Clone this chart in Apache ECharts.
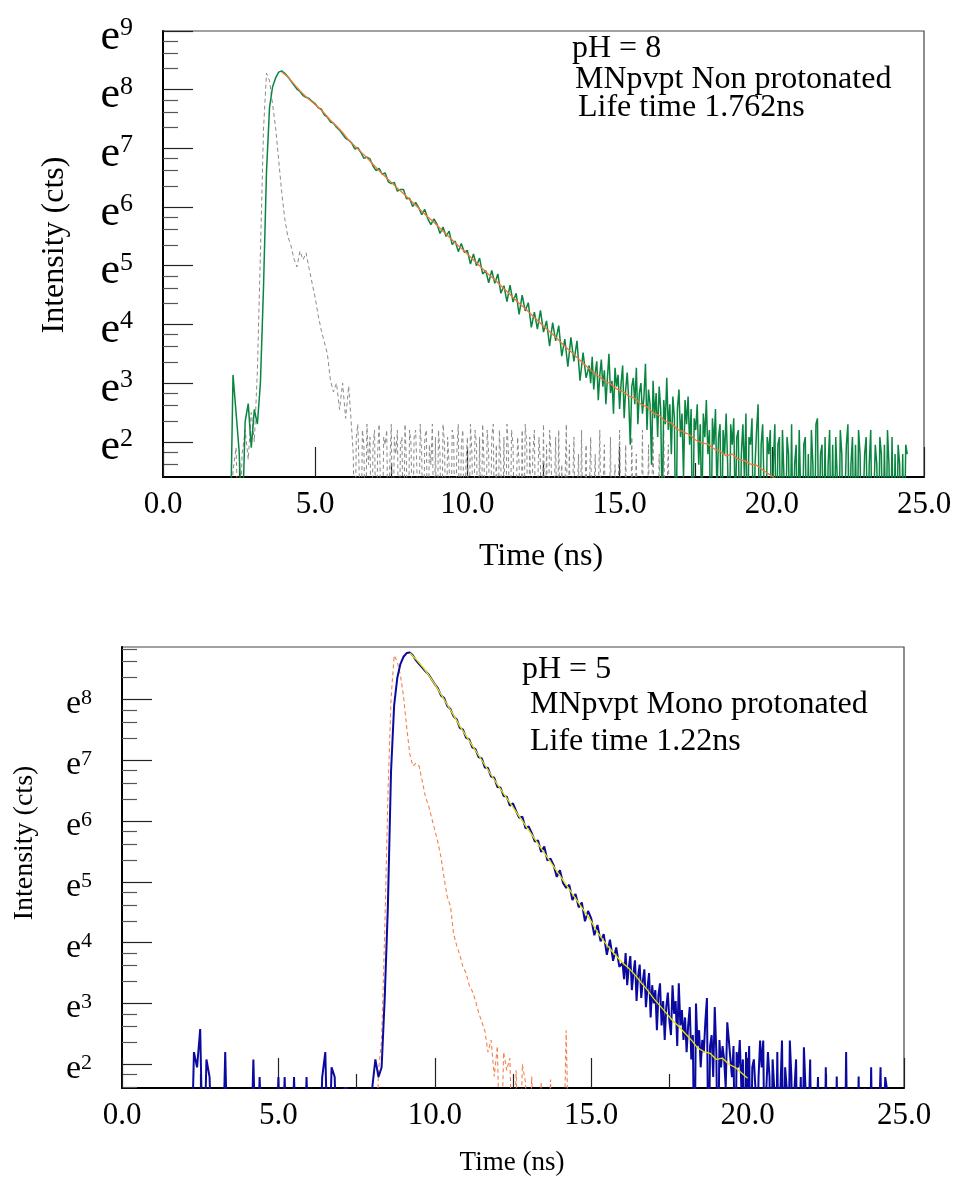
<!DOCTYPE html>
<html>
<head>
<meta charset="utf-8">
<script src="https://cdn.jsdelivr.net/npm/echarts@6/dist/echarts.min.js"></script>
<style>
  html, body { margin: 0; padding: 0; background: #fff; }
  #chart { width: 959px; height: 1182px; }
</style>
</head>
<body>
<div id="chart"></div>
<script>
// values are ln(counts); 0 = a single count (below the visible axis range)
const STEP = 0.1;
const FINE_STEP = 0.05;
const FIT_STEP = 0.2;

// pH = 8 panel
const highDecayStart = 2.2;      // 0.1 ns channels up to 13.9
const highDecay = [
  0, 3.14, 2.5, 1.85, 0.5, 2.35, 2.65, 1.9, 2.55, 2.3,
  3.0, 4.6, 6.6, 7.7, 8.05, 8.2, 8.3, 8.32, 8.28, 8.22,
  8.15, 8.08, 8.01, 7.97, 7.90, 7.87, 7.85, 7.80, 7.76, 7.69,
  7.67, 7.57, 7.53, 7.45, 7.43, 7.36, 7.31, 7.24, 7.17, 7.14,
  7.09, 6.99, 7.01, 6.93, 6.83, 6.85, 6.82, 6.70, 6.62, 6.66,
  6.56, 6.58, 6.43, 6.40, 6.42, 6.27, 6.30, 6.30, 6.14, 6.15,
  6.01, 6.08, 5.99, 5.87, 5.96, 5.80, 5.70, 5.80, 5.71, 5.55,
  5.66, 5.50, 5.59, 5.36, 5.42, 5.24, 5.38, 5.23, 5.26, 5.03,
  5.20, 5.00, 5.13, 4.86, 4.92, 4.71, 4.92, 4.70, 4.86, 4.53,
  4.66, 4.39, 4.67, 4.38, 4.53, 4.17, 4.50, 4.23, 4.37, 3.95,
  4.21, 3.92, 4.24, 3.87, 4.06, 3.63, 4.03, 3.72, 3.98, 3.46,
  3.75, 3.28, 3.78, 3.37, 3.72, 3.04, 3.52, 3.09
];
const highTailStart = 14.0;      // 0.05 ns channels up to 24.45
const highTail = [
  3.30, 3.00, 3.45, 2.89, 3.18, 3.37, 2.71, 3.14, 3.40, 2.94,
  3.22, 2.64, 3.09, 3.50, 2.83, 3.04, 2.48, 3.26, 2.94, 3.14,
  2.56, 3.00, 3.30, 2.40, 2.89, 3.18, 2.71, 1.95, 2.94, 3.09,
  2.64, 3.26, 2.30, 2.83, 3.00, 2.48, 2.77, 3.33, 2.20, 2.89,
  2.64, 1.61, 3.04, 2.40, 2.83, 2.08, 2.94, 2.56, 0.69, 2.71,
  2.30, 3.09, 2.20, 2.64, 1.79, 2.77, 2.40, 0, 2.56, 2.89,
  2.08, 2.48, 1.39, 2.71, 2.30, 2.77, 1.95, 2.56, 0, 2.40,
  2.20, 2.64, 1.61, 2.30, 0.69, 2.48, 2.08, 2.71, 1.79, 2.20,
  0, 2.40, 1.95, 2.56, 1.10, 2.08, 2.30, 0, 2.20, 1.79,
  2.48, 1.61, 0, 2.30, 1.95, 2.40, 0.69, 2.08, 2.20, 0,
  1.79, 2.30, 1.39, 2.48, 0, 2.08, 1.95, 2.40, 0, 1.61,
  2.20, 2.64, 0, 1.95, 2.30, 1.10, 0, 2.08, 1.79, 2.20,
  0, 1.61, 2.30, 0, 1.95, 2.08, 0, 2.20, 1.39, 0,
  2.08, 1.79, 0, 2.30, 0, 1.61, 1.95, 0, 2.20, 1.10,
  0, 1.95, 2.08, 0, 1.79, 0, 2.20, 1.61, 0, 2.30,
  2.40, 0, 1.79, 1.95, 0, 2.08, 0, 1.61, 2.20, 0,
  1.95, 0, 2.08, 1.39, 0, 2.20, 1.79, 0, 0, 1.95,
  2.30, 0, 1.61, 2.08, 0, 1.95, 0, 2.20, 1.79, 0,
  0, 1.79, 2.08, 0, 1.61, 2.20, 0, 0, 1.95, 1.61,
  0, 2.08, 1.79, 0, 1.95, 0, 2.20, 1.61, 0, 2.08,
  0, 1.79, 0, 1.95, 1.61, 0, 1.79, 0, 1.95, 1.79
];
const highIrfStart = 2.2;        // 0.1 ns up to 6.1
const highIrf = [
  0, 1.5, 1.9, 0, 1.8, 2.2, 1.7, 2.5, 2.0, 3.2,
  5.2, 7.3, 8.28, 8.15, 7.75, 7.35, 6.8, 6.25, 5.8, 5.5,
  5.35, 5.12, 4.98, 5.25, 5.1, 5.22, 4.95, 4.7, 4.45, 4.15,
  3.9, 3.7, 3.5, 3.05, 2.85, 3.0, 2.55, 3.0, 2.4, 2.95
];
const highIrfTailStart = 6.2;    // 0.05 ns up to 16.7
const highIrfTail = [
  2.20, 1.79, 0, 2.08, 2.30, 1.39, 0, 2.20, 1.95, 0,
  2.30, 1.61, 2.08, 0, 1.95, 2.20, 0, 1.79, 2.30, 1.10,
  0, 2.08, 1.95, 2.20, 0, 1.61, 2.30, 0, 2.08, 1.79,
  2.20, 0, 1.95, 2.08, 0, 2.30, 1.61, 0, 2.20, 1.95,
  0, 2.08, 2.20, 1.39, 0, 2.30, 1.79, 0, 2.08, 2.20,
  0, 1.95, 1.61, 2.30, 0, 2.08, 0, 2.20, 1.79, 0,
  2.30, 1.95, 0, 2.08, 1.61, 0, 2.20, 2.08, 0, 1.79,
  2.30, 0, 1.95, 2.20, 0, 1.61, 2.08, 0, 2.30, 1.79,
  0, 2.20, 1.95, 0, 2.08, 0, 2.30, 1.61, 0, 2.20,
  1.79, 0, 2.08, 2.30, 0, 1.95, 0, 2.20, 1.61, 0,
  2.08, 0, 2.30, 1.79, 0, 2.20, 1.95, 0, 0, 2.08,
  1.61, 0, 2.20, 0, 2.30, 1.95, 0, 2.08, 0, 1.79,
  2.20, 0, 0, 2.08, 1.61, 0, 2.30, 0, 1.95, 0,
  2.20, 1.79, 0, 0, 2.08, 0, 2.20, 0, 1.61, 0,
  0, 2.30, 0, 1.95, 0, 0, 2.08, 0, 0, 1.79,
  0, 2.20, 0, 0, 1.95, 0, 0, 2.08, 0, 0,
  1.79, 0, 0, 2.20, 0, 0, 1.95, 0, 0, 0,
  2.08, 0, 0, 1.61, 0, 0, 2.20, 0, 0, 0,
  1.95, 0, 0, 0, 2.08, 0, 0, 1.79, 0, 0,
  0, 2.20, 0, 0, 0, 1.95, 0, 0, 2.08, 0,
  0, 0, 1.79, 0, 0, 2.20, 0, 0, 1.95, 0,
  0
];
const highFitStart = 3.9;
const highFit = [
  8.3, 8.22, 8.1, 7.98, 7.88, 7.79, 7.7, 7.6, 7.48, 7.38,
  7.27, 7.14, 7.04, 6.94, 6.84, 6.73, 6.62, 6.52, 6.42, 6.32,
  6.23, 6.13, 6.03, 5.93, 5.83, 5.74, 5.64, 5.54, 5.44, 5.34,
  5.25, 5.15, 5.05, 4.95, 4.85, 4.76, 4.66, 4.56, 4.46, 4.36,
  4.27, 4.17, 4.07, 3.97, 3.88, 3.78, 3.68, 3.58, 3.49, 3.39,
  3.29, 3.20, 3.12, 3.04, 2.99, 2.90, 2.86, 2.78, 2.74, 2.64,
  2.60, 2.49, 2.45, 2.35, 2.32, 2.21, 2.17, 2.12, 2.03, 1.98,
  1.96, 1.88, 1.84, 1.76, 1.79, 1.70, 1.68, 1.62, 1.60, 1.52,
  1.45, 1.38
];

// pH = 5 panel
const lowDecayStart = 2.2;       // 0.1 ns up to 15.9
const lowDecay = [
  0, 2.2, 1.95, 2.58, 0, 2.08, 1.79, 0, 0, 0,
  0, 2.2, 0, 0, 0, 0, 0, 0, 0, 0,
  2.08, 0, 1.79, 0, 0, 0, 0, 0, 1.79, 0,
  1.79, 0, 0, 1.79, 0, 0, 0, 1.79, 0, 0,
  0, 0, 1.79, 2.2, 0, 1.95, 1.79, 0, 0, 1.61,
  1.61, 0, 0, 1.61, 0, 0, 0, 0, 1.61, 2.08,
  1.79, 1.95, 3.1, 4.6, 6.8, 7.9, 8.35, 8.58, 8.7, 8.76,
  8.77, 8.72, 8.64, 8.58, 8.52, 8.46, 8.41, 8.33,
  8.25, 8.18, 8.06, 8.02, 7.89, 7.84, 7.72, 7.67, 7.53, 7.50,
  7.37, 7.34, 7.21, 7.18, 7.05, 7.03, 6.88, 6.87, 6.73, 6.71,
  6.56, 6.55, 6.41, 6.40,
  6.25, 6.29, 6.16, 6.05, 6.07, 5.88, 5.91, 5.80, 5.66, 5.68,
  5.49, 5.58, 5.35, 5.38, 5.27, 5.08, 5.19, 4.98, 4.90, 4.95,
  4.70, 4.80, 4.58, 4.66, 4.35, 4.52, 4.40, 4.12, 4.29, 4.02,
  4.14, 3.80, 4.05, 3.70, 3.92, 3.60
];
const lowTailStart = 16.0;       // 0.05 ns up to 24.45
const lowTail = [
  3.67, 3.40, 3.83, 3.30, 3.58, 3.78, 3.22, 3.50, 3.71, 3.04,
  3.45, 3.64, 3.09, 3.37, 3.56, 2.94, 3.26, 3.50, 2.77, 3.30,
  3.00, 3.22, 2.56, 3.14, 3.33, 2.64, 3.04, 2.40, 2.94, 3.18,
  2.71, 2.48, 3.30, 2.83, 3.04, 2.30, 3.33, 2.64, 2.89, 2.40,
  2.77, 2.20, 2.64, 2.94, 2.08, 2.48, 0, 3.00, 2.30, 2.56,
  1.95, 2.40, 2.20, 2.71, 3.09, 0, 2.30, 2.48, 1.79, 2.94,
  2.20, 0, 2.40, 1.95, 2.30, 2.08, 1.61, 2.69, 2.40, 2.08,
  1.79, 2.30, 0, 2.20, 1.95, 2.40, 1.61, 2.08, 0, 2.20,
  1.39, 2.30, 0, 1.95, 2.08, 1.61, 0, 1.79, 2.39, 1.95,
  2.39, 0, 1.61, 2.20, 1.79, 0, 2.08, 1.61, 0, 2.20,
  0, 1.61, 2.39, 0, 1.95, 1.61, 0, 2.39, 1.79, 0,
  1.61, 2.08, 0, 0, 1.79, 0, 2.28, 1.61, 0, 0,
  2.08, 0, 1.61, 0, 0, 1.79, 0, 0, 1.61, 0,
  1.95, 0, 0, 1.61, 0, 0, 0, 1.80, 0, 0,
  0, 1.61, 0, 2.20, 0, 0, 0, 1.61, 0, 0,
  0, 1.80, 0, 0, 0, 1.61, 0, 0, 0, 1.95,
  0, 0, 1.61, 0, 0, 1.95, 0, 0, 1.79, 1.61
];
const lowIrfStart = 8.1;
const lowIrf = [
  0, 1.9, 2.4, 4.2, 6.4, 8.0, 8.72, 8.62, 8.4, 8.05,
  7.55, 7.1, 6.9, 6.95, 6.9, 6.65, 6.4, 6.25, 6.05, 5.85,
  5.65, 5.4, 5.05, 4.75, 4.6, 4.15, 3.95, 3.8, 3.6, 3.5,
  3.3, 3.2, 3.05, 2.85, 2.7, 2.55, 2.2, 2.4, 1.8, 2.3,
  0, 2.2, 1.9, 2.1, 0, 1.9, 0, 2.0, 1.7, 0,
  1.8, 0, 0, 1.7, 0, 0, 1.75, 0, 0, 0,
  0, 2.56, 0
];
const lowFitStart = 9.2;
const lowFit = [
  8.76, 8.66, 8.54, 8.40, 8.25, 8.08, 7.91, 7.74, 7.56, 7.40,
  7.24, 7.08, 6.92, 6.76, 6.60, 6.45, 6.30, 6.15, 6.00, 5.85,
  5.70, 5.55, 5.40, 5.25, 5.10, 4.95, 4.80, 4.65, 4.50, 4.35,
  4.17, 4.03, 3.90, 3.78, 3.67, 3.58, 3.47, 3.34, 3.22, 3.08,
  2.96, 2.84, 2.72, 2.62, 2.51, 2.40, 2.27, 2.21, 2.18, 2.08,
  2.10, 2.00, 1.95, 1.86, 1.77
];

// axes
const majorExponents = [2, 3, 4, 5, 6, 7, 8, 9];
const minorOffsets = [0.357, 0.620, 0.828]; // ln of quarter steps between e^n and e^(n+1)

const SERIF = '"Liberation Serif", "DejaVu Serif", serif';

function pairs(start, step, vals) {
  return vals.map((v, i) => [+(start + i * step).toFixed(3), v]);
}

function minorValues(lo, hi) {
  const out = [];
  for (let n = 0; n <= 9; n++) {
    minorOffsets.forEach(o => {
      const v = n + o;
      if (v > lo && v < hi) out.push(v);
    });
  }
  return out;
}

function xAxisFor(gridIndex) {
  return {
    type: 'value', gridIndex, min: 0, max: 25, interval: 5,
    axisLine: { lineStyle: { color: '#000', width: 2 } },
    axisTick: { inside: true, length: 30, lineStyle: { color: '#222', width: 1.2 } },
    minorTick: { show: true, splitNumber: 2, length: 14, lineStyle: { color: '#222', width: 1.2 } },
    splitLine: { show: false },
    axisLabel: {
      formatter: v => v.toFixed(1), margin: 12,
      fontFamily: SERIF, fontSize: 31, color: '#000'
    }
  };
}

function yAxesFor(gridIndex, min, max, eSize, sSize, pad) {
  const majors = majorExponents.filter(v => v >= min && v <= max);
  return [{
    type: 'value', gridIndex, min, max, position: 'left',
    axisLine: { lineStyle: { color: '#000', width: 2 } },
    axisTick: { inside: true, length: 30, customValues: majors, lineStyle: { color: '#222', width: 1.2 } },
    splitLine: { show: false },
    axisLabel: {
      customValues: majors, margin: 30, padding: [pad, 0, 0, 0],
      formatter: v => '{e|e}{s|' + v + '}',
      rich: {
        e: { fontFamily: SERIF, fontSize: eSize, lineHeight: eSize, verticalAlign: 'bottom', color: '#000' },
        s: { fontFamily: SERIF, fontSize: sSize, lineHeight: sSize, verticalAlign: 'top', color: '#000' }
      }
    }
  }, {
    type: 'value', gridIndex, min, max, position: 'left', offset: 0,
    axisLine: { show: false },
    axisTick: { inside: true, length: 15, customValues: minorValues(min, max), lineStyle: { color: '#555', width: 1.2 } },
    splitLine: { show: false },
    axisLabel: { show: false }
  }];
}

function line(name, xi, yi, data, color, width, dashed) {
  return {
    name, type: 'line', xAxisIndex: xi, yAxisIndex: yi, data,
    showSymbol: false, symbol: 'none', clip: true, animation: false,
    lineStyle: { color, width, type: dashed ? [4, 3] : 'solid' },
    z: 3
  };
}

function txt(x, y, text, size, align) {
  return {
    type: 'text', x, y,
    style: { text, fontFamily: SERIF, fontSize: size, fill: '#000', align: align || 'left', verticalAlign: 'middle' }
  };
}

const chart = echarts.init(document.getElementById('chart'), null, { renderer: 'canvas' });

chart.setOption({
  backgroundColor: '#fff',
  animation: false,
  grid: [
    { left: 163, top: 31, width: 761, height: 446, show: true, borderColor: '#444', borderWidth: 1.2, backgroundColor: 'transparent' },
    { left: 122, top: 647, width: 782, height: 441, show: true, borderColor: '#444', borderWidth: 1.2, backgroundColor: 'transparent' }
  ],
  xAxis: [xAxisFor(0), xAxisFor(1)],
  yAxis: [
    ...yAxesFor(0, 1.4, 9, 44, 26, 12),
    ...yAxesFor(1, 1.61, 8.86, 34, 22, 10)
  ],
  series: [
    line('IRF pH8', 0, 0, pairs(highIrfStart, STEP, highIrf).concat(pairs(highIrfTailStart, FINE_STEP, highIrfTail)), '#8a8a8a', 1, true),
    line('Decay pH8', 0, 0, pairs(highDecayStart, STEP, highDecay).concat(pairs(highTailStart, FINE_STEP, highTail)), '#0a8540', 1.5, false),
    line('Fit pH8', 0, 0, pairs(highFitStart, FIT_STEP, highFit), '#f0783a', 1.3, false),
    line('IRF pH5', 1, 2, pairs(lowIrfStart, STEP, lowIrf), '#f5804a', 1.1, true),
    line('Decay pH5', 1, 2, pairs(lowDecayStart, STEP, lowDecay).concat(pairs(lowTailStart, FINE_STEP, lowTail)), '#0a0aa0', 2, false),
    line('Fit pH5', 1, 2, pairs(lowFitStart, FIT_STEP, lowFit), '#e8e400', 1.3, false)
  ],
  graphic: [
    txt(572, 49, 'pH = 8', 32),
    txt(575, 80, 'MNpvpt Non protonated', 32),
    txt(578, 108, 'Life time 1.762ns', 32),
    txt(522, 670, 'pH = 5', 32),
    txt(530, 705, 'MNpvpt Mono protonated', 32),
    txt(530, 742, 'Life time 1.22ns', 32),
    txt(541, 557, 'Time (ns)', 32, 'center'),
    txt(512, 1163, 'Time (ns)', 27, 'center'),
    { type: 'text', x: 55, y: 245, rotation: Math.PI / 2,
      style: { text: 'Intensity (cts)', fontFamily: SERIF, fontSize: 32, fill: '#000', align: 'center', verticalAlign: 'middle' } },
    { type: 'text', x: 25, y: 843, rotation: Math.PI / 2,
      style: { text: 'Intensity (cts)', fontFamily: SERIF, fontSize: 28, fill: '#000', align: 'center', verticalAlign: 'middle' } }
  ]
});
</script>
</body>
</html>
